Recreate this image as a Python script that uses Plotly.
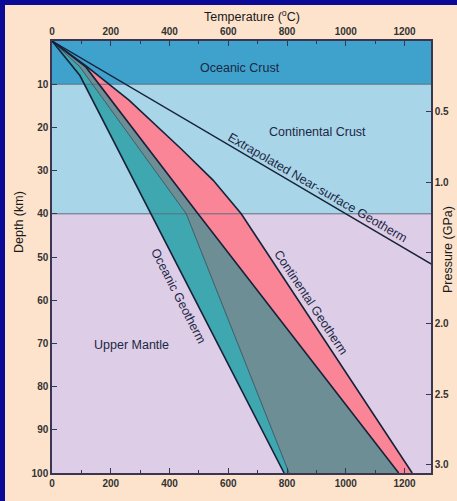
import plotly.graph_objects as go

# ---------------- data ----------------
layer_names = ["Oceanic Crust", "Continental Crust", "Upper Mantle"]
layer_top = [0, 10, 40]
layer_bottom = [10, 40, 100]
layer_colors = ["#3FA2CC", "#A9D5E8", "#DDCDE6"]

# geotherm boundaries: depth (km) and temperature (C)
oce_left_depth = [0, 8, 100]
oce_left_temp = [0, 95, 790]
con_left_depth = [0, 6, 40, 100]
con_left_temp = [0, 95, 457, 807]
oce_right_depth = [0, 6, 40, 100]
oce_right_temp = [0, 115, 497, 1180]
con_right_depth = [0, 6, 13.7, 25, 32.2, 36.5, 40, 100]
con_right_temp = [0, 120, 262, 440, 548, 600, 644, 1226]
near_depth = [0, 52]
near_temp = [0, 1300]

x_ticks = [0, 200, 400, 600, 800, 1000, 1200]
depth_ticks = [10, 20, 30, 40, 50, 60, 70, 80, 90, 100]
pressure_ticks = [0.5, 1.0, 1.5, 2.0, 2.5, 3.0]
pressure_labels = ["0.5", "1.0", "", "2.0", "2.5", "3.0"]
km_per_gpa = 32.7

TEAL = "#3FA7AF"
GRAY = "#6E8E96"
PINK = "#F98597"
LINE = "#16223A"
TXT = "#1C2745"
NAVY = "#0A0A96"
FONT = "Liberation Sans"

fig = go.Figure()

# layer bands
for nm, t, b, c in zip(layer_names, layer_top, layer_bottom, layer_colors):
    fig.add_shape(type="rect", xref="x", yref="y", x0=0, x1=1290, y0=t, y1=b,
                  fillcolor=c, line_width=0, layer="below")

def poly(t1, d1, t2, d2, color):
    fig.add_trace(go.Scatter(x=t1 + t2[::-1], y=d1 + d2[::-1], fill="toself",
                             fillcolor=color, line=dict(width=0), mode="lines",
                             hoverinfo="skip", showlegend=False))

poly(oce_left_temp, oce_left_depth, con_left_temp, con_left_depth, TEAL)
poly(con_left_temp, con_left_depth, oce_right_temp, oce_right_depth, GRAY)
poly(oce_right_temp, oce_right_depth, con_right_temp, con_right_depth, PINK)

# layer boundary lines
for b in layer_bottom[:-1]:
    fig.add_trace(go.Scatter(x=[0, 1290], y=[b, b], mode="lines",
                             line=dict(color="#5E6E80", width=1),
                             hoverinfo="skip", showlegend=False))

def line(t, d, w=1.6, color=LINE):
    fig.add_trace(go.Scatter(x=t, y=d, mode="lines", line=dict(color=color, width=w),
                             hoverinfo="skip", showlegend=False))

line(oce_left_temp, oce_left_depth)
line(con_left_temp, con_left_depth, 0.8, "#2E4A55")
line(oce_right_temp, oce_right_depth)
line(con_right_temp, con_right_depth)
line(near_temp, near_depth, 1.4)

# helper traces for extra axes
fig.add_trace(go.Scatter(x=[0, 1290], y=[0, 0], xaxis="x2", mode="lines",
                         line=dict(width=0), hoverinfo="skip", showlegend=False))
fig.add_trace(go.Scatter(x=[0, 1290], y=[0, 3], yaxis="y2", mode="lines",
                         line=dict(width=0), hoverinfo="skip", showlegend=False))

# text labels
def label(txt, x, y, ang=0, size=12.5):
    fig.add_annotation(x=x, y=y, xref="x", yref="y", text=txt, showarrow=False,
                       textangle=ang, xanchor="center", yanchor="middle",
                       font=dict(family=FONT, size=size, color=TXT))

label(layer_names[0], 640, 6.2)
label(layer_names[1], 903, 21)
label(layer_names[2], 270, 70.4)
label("Extrapolated Near-surface Geotherm", 905, 34.0, 30.2)
label("Continental Geotherm", 880, 60.4, 56.5)
label("Oceanic Geotherm", 430, 59, 62.8)

# axis titles as paper annotations (pixel-placed)
def ptitle(txt, px, py, ang=0):
    fig.add_annotation(x=(px - 52) / 379, y=(473 - py) / 432, xref="paper", yref="paper",
                       text=txt, showarrow=False, textangle=ang,
                       xanchor="center", yanchor="middle",
                       font=dict(family=FONT, size=12.5, color="#1A1A1A"))

ptitle("Temperature (<sup>o</sup>C)", 252, 16)
ptitle("Depth (km)", 19, 222, -90)
ptitle("Pressure (GPa)", 448, 250, -90)

# navy frame strips (left and top) as filled annotation boxes
def strip(px, py, w, h):
    fig.add_annotation(x=(px - 52) / 379, y=(473 - py) / 432, xref="paper", yref="paper",
                       text=" ", showarrow=False, xanchor="left", yanchor="top",
                       width=w, height=h, bgcolor=NAVY, borderpad=0, borderwidth=0,
                       font=dict(size=4))

strip(0, 0, 5, 260)
strip(0, 250, 5, 260)
strip(0, 0, 460, 5)

axis_common = dict(showline=True, linecolor="#3A3550", linewidth=1.5, mirror=False,
                   showgrid=False, zeroline=False, ticks="inside", ticklen=5,
                   tickcolor="#3A3550", tickwidth=1.2, automargin=False,
                   tickfont=dict(family=FONT, size=10, color="#333333", weight="bold"))

minor = dict(dtick=100, ticks="inside", ticklen=3, tickcolor="#3A3550")

fig.update_layout(
    width=457, height=501,
    margin=dict(l=52, r=26, t=41, b=28, autoexpand=False),
    paper_bgcolor="#FDE3CB",
    plot_bgcolor="#DDCDE6",
    xaxis=dict(range=[0, 1290], tickvals=x_ticks, side="bottom", minor=minor,
               **axis_common),
    xaxis2=dict(range=[0, 1290], tickvals=x_ticks, side="top", overlaying="x",
                minor=minor, **axis_common),
    yaxis=dict(range=[100, 0], tickvals=depth_ticks, **axis_common),
    yaxis2=dict(range=[100 / km_per_gpa, 0], overlaying="y", side="right",
                tickvals=pressure_ticks, ticktext=pressure_labels, **axis_common),
)

fig.write_html("out.html", config={"displayModeBar": False},
               post_script="document.body.style.margin='0';"
                           "document.body.style.overflow='hidden';")
